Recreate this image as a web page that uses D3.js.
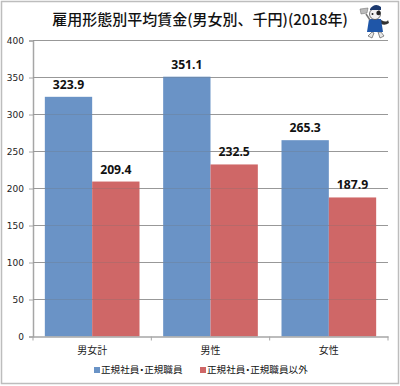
<!DOCTYPE html>
<html lang="ja">
<head>
<meta charset="UTF-8"/>
<title>雇用形態別平均賃金</title>
<script src="https://d3js.org/d3.v7.min.js"></script>
<style>
	html, body { margin: 0; padding: 0; background: #fff; }
	svg { display: block; }
	text { font-family: "Noto Sans CJK JP", sans-serif; fill: #111; }
	.value { font-family: "Noto Sans", sans-serif; font-weight: bold; font-size: 12.2px; }
	.tick text { font-family: "DejaVu Sans", sans-serif; font-size: 9px; fill: #222; }
	.cat .tick text { font-family: "Noto Sans CJK JP", sans-serif; font-size: 10px; }
	.legend { font-size: 9.6px; font-feature-settings: "palt"; }
</style>
</head>
<body>
<div id="chart"></div>
<script>
	var categories = ["男女計", "男性", "女性"];
	var seriesNames = ["正規社員・正規職員", "正規社員・正規職員以外"];
	var regular = [323.9, 351.1, 265.3];
	var nonRegular = [209.4, 232.5, 187.9];
	var yTicks = [0, 50, 100, 150, 200, 250, 300, 350, 400];
	var colors = ["#6a93c6", "#cf6767"];

	var w = 400, h = 386;
	var margin = {top: 40.5, right: 12, bottom: 49.5, left: 33};

	var svg = d3.select("#chart").append("svg")
		.attr("width", w)
		.attr("height", h);

	// outer frame
	svg.append("rect")
		.attr("x", 1.5).attr("y", 1.5)
		.attr("width", w - 3).attr("height", h - 4)
		.attr("fill", "#fff")
		.attr("stroke", "#bdbdbd")
		.attr("stroke-width", 1.5);

	var xScale = d3.scaleBand()
		.domain(categories)
		.range([margin.left, w - margin.right])
		.paddingInner(0.2)
		.paddingOuter(0.1);

	var x1 = d3.scaleBand()
		.domain(seriesNames)
		.range([0, xScale.bandwidth()]);

	var yScale = d3.scaleLinear()
		.domain([0, 400])
		.range([h - margin.bottom, margin.top]);

	function gridLines(color, opacity){
		svg.append("g").selectAll("line")
			.data(yTicks.filter(function(d){ return d > 0; }))
			.enter().append("line")
			.attr("x1", margin.left)
			.attr("x2", w - margin.right)
			.attr("y1", function(d){ return yScale(d); })
			.attr("y2", function(d){ return yScale(d); })
			.attr("stroke", color)
			.attr("stroke-opacity", opacity);
	}

	gridLines("#a6a6a6", 1);

	var yAxis = d3.axisLeft(yScale)
		.tickValues(yTicks)
		.tickSize(4)
		.tickPadding(5);

	svg.append("g")
		.attr("transform", "translate(" + margin.left + ",0)")
		.call(yAxis)
		.call(function(g){
			g.select(".domain").attr("stroke", "#a6a6a6").attr("stroke-width", 1.5);
			g.selectAll(".tick line").attr("stroke", "#a6a6a6");
		});

	// bars
	[regular, nonRegular].forEach(function(values, s){
		svg.append("g").selectAll("rect")
			.data(values)
			.enter().append("rect")
			.attr("x", function(d, i){ return xScale(categories[i]) + x1(seriesNames[s]); })
			.attr("y", function(d){ return yScale(d); })
			.attr("width", x1.bandwidth())
			.attr("height", function(d){ return yScale(0) - yScale(d); })
			.attr("fill", colors[s]);

		svg.append("g").selectAll("text")
			.data(values)
			.enter().append("text")
			.attr("class", "value")
			.attr("x", function(d, i){ return xScale(categories[i]) + x1(seriesNames[s]) + x1.bandwidth() / 2; })
			.attr("y", function(d){ return yScale(d) - 8; })
			.attr("text-anchor", "middle")
			.text(function(d){ return d.toFixed(1); });
	});

	// gridlines show faintly through the bars
	gridLines("#6e6e6e", 0.25);

	var catAxis = d3.axisBottom(xScale).tickSize(0).tickPadding(10);
	svg.append("g")
		.attr("class", "cat")
		.attr("transform", "translate(0," + yScale(0) + ")")
		.call(catAxis)
		.call(function(g){
			g.select(".domain").attr("stroke", "#a6a6a6").attr("stroke-width", 1.5);
		});

	// ticks between the categories
	var step = xScale.step();
	svg.append("g").selectAll("line")
		.data(d3.range(0, categories.length + 1))
		.enter().append("line")
		.attr("x1", function(d){ return margin.left + d * step; })
		.attr("x2", function(d){ return margin.left + d * step; })
		.attr("y1", yScale(0))
		.attr("y2", yScale(0) + 4)
		.attr("stroke", "#a6a6a6");

	// title
	svg.append("text")
		.attr("x", 200)
		.attr("y", 25)
		.attr("text-anchor", "middle")
		.style("font-size", "15px")
		.style("font-weight", "500")
		.text("雇用形態別平均賃金(男女別、千円)(2018年)");

	// legend
	var legendX = [94, 200];
	seriesNames.forEach(function(name, s){
		svg.append("rect")
			.attr("x", legendX[s]).attr("y", 367)
			.attr("width", 6).attr("height", 6)
			.attr("fill", colors[s]);
		svg.append("text")
			.attr("class", "legend")
			.attr("x", legendX[s] + 7)
			.attr("y", 372.5)
			.text(name);
	});

	// mascot
	var m = svg.append("g").attr("transform", "translate(375,22)");
	m.append("path").attr("d", "M-3 10 L-7 14 L-3 16 L-1 11 Z M3 10 L5 16 L9 14 L6 10 Z").attr("fill", "#e6e6e6").attr("stroke", "#444").attr("stroke-width", 0.6);
	m.append("path").attr("d", "M6 -2 Q12 1 13 -2 L14 1 Q10 4 6 2 Z").attr("fill", "#333");
	m.append("path").attr("d", "M-6 -3 L6 -3 L8 10 L-8 10 Z").attr("fill", "#1f56a8");
	m.append("line").attr("x1", -5).attr("y1", -2).attr("x2", -9).attr("y2", -8).attr("stroke", "#777").attr("stroke-width", 1.5);
	m.append("path").attr("d", "M-15 -13 L-7 -14 L-8 -9 L-14 -8 Z").attr("fill", "#bbb").attr("stroke", "#666").attr("stroke-width", 0.5);
	m.append("circle").attr("cx", 0).attr("cy", -8).attr("r", 5.5).attr("fill", "#f2f2f2").attr("stroke", "#333").attr("stroke-width", 0.7);
	m.append("circle").attr("cx", -2.5).attr("cy", -8).attr("r", 1).attr("fill", "#222");
	m.append("circle").attr("cx", 3.5).attr("cy", -9).attr("r", 2.2).attr("fill", "#222");
	m.append("path").attr("d", "M-5 -13 Q0 -20 6 -15 L6 -12 L-5 -12 Z").attr("fill", "#1c3a70");
</script>
</body>
</html>
